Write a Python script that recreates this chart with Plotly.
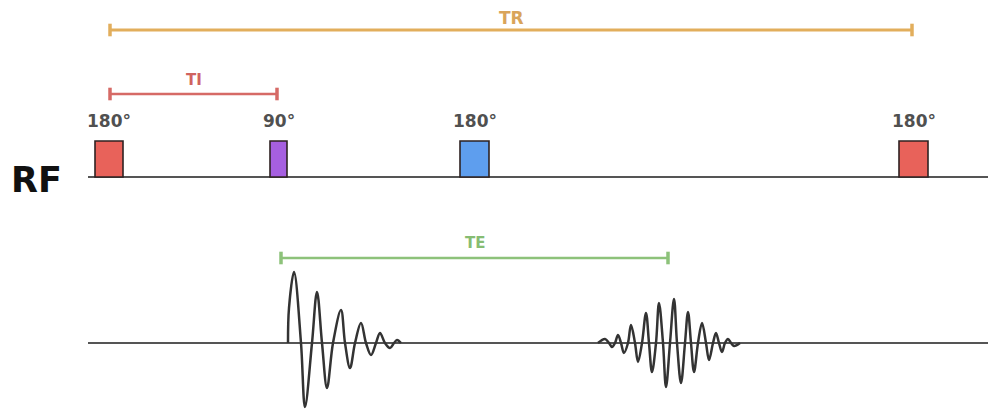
import plotly.graph_objects as go

# ---------------- data (diagram units = horizontal time axis) ----------------
pulse_labels = ["180°", "90°", "180°", "180°"]
pulse_start = [95, 270, 460, 899]
pulse_end = [123, 287, 489, 928]

interval_names = ["TR", "TI", "TE"]
interval_start = [110, 110, 281]
interval_end = [912, 277, 668]

# FID after the 90° pulse (time, amplitude) read at extrema and zero crossings
fid_t = [288, 289, 294, 301, 305, 312, 317, 322, 327, 333, 341, 345, 350,
         355, 361, 366, 371, 376, 380, 385, 390, 394, 397, 401]
fid_amp = [0, 35, 71, 0, -64, 0, 51, 0, -45, 0, 33, 0, -25,
           0, 20, 0, -12, 0, 10, 0, -5, 0, 3, 0]

# Spin echo (time, amplitude) read at extrema and zero crossings
echo_t = [598, 605, 609, 612, 615, 618, 621, 624, 628, 631, 635, 638, 642,
          646, 649, 652, 656, 659, 663, 666, 670, 674, 677, 681, 685, 688,
          691, 694, 698, 702, 706, 709, 713, 716, 719, 722, 725, 728, 731,
          734, 740]
echo_amp = [0, 4, 0, -4, 0, 8, 0, -10, 0, 18, 0, -19, 0,
            30, 0, -29, 0, 40, 0, -44, 0, 44, 0, -40, 0, 31,
            0, -29, 0, 20, 0, -17, 0, 10, 0, -9, 0, 4, 0,
            -3, 0]

# ---------------- styles / layout ----------------
W, H = 988, 412
rf_y = 177
sig_y = 343
pulse_top = 141
pulse_fill = ["#E8625A", "#A65FE0", "#5E9EEE", "#E8625A"]
interval_colors = ["#E2AE5C", "#D66A66", "#8DC27A"]
interval_label_colors = ["#D9A45A", "#D0635F", "#86BC72"]
interval_y = [30, 94, 258]
interval_label_y = [18, 80, 243]
interval_width = [3, 2.5, 2.5]
interval_font = [17, 15, 15]

fig = go.Figure()

# baselines
for yb in (rf_y, sig_y):
    fig.add_trace(go.Scatter(x=[88, 988], y=[yb, yb], mode="lines",
                             line=dict(color="#555555", width=1.8),
                             hoverinfo="skip"))

# pulses
for i, lab in enumerate(pulse_labels):
    fig.add_shape(type="rect", xref="x", yref="y",
                  x0=pulse_start[i], x1=pulse_end[i], y0=pulse_top, y1=rf_y,
                  fillcolor=pulse_fill[i], line=dict(color="#2e2222", width=1.6))
    fig.add_annotation(x=(pulse_start[i] + pulse_end[i]) / 2, y=121, text=lab,
                       showarrow=False, xanchor="center", yanchor="middle",
                       font=dict(family="DejaVu Sans", size=17, color="#505050",
                                 weight="bold"))

# timing intervals
for i, name in enumerate(interval_names):
    fig.add_trace(go.Scatter(
        x=[interval_start[i], interval_end[i]], y=[interval_y[i], interval_y[i]],
        mode="lines+markers",
        line=dict(color=interval_colors[i], width=interval_width[i]),
        marker=dict(symbol="line-ns", size=9,
                    line=dict(color=interval_colors[i], width=3.5)),
        hoverinfo="skip"))
    fig.add_annotation(x=(interval_start[i] + interval_end[i]) / 2,
                       y=interval_label_y[i], text=name, showarrow=False,
                       xanchor="center", yanchor="middle",
                       font=dict(family="DejaVu Sans", size=interval_font[i],
                                 color=interval_label_colors[i], weight="bold"))

# signals
for ts, amps in ((fid_t, fid_amp), (echo_t, echo_amp)):
    fig.add_trace(go.Scatter(x=ts, y=[sig_y - a for a in amps], mode="lines",
                             line=dict(color="#333333", width=2.5,
                                       shape="spline", smoothing=1.0),
                             hoverinfo="skip"))

# RF label
fig.add_annotation(x=36, y=180, text="RF", showarrow=False,
                   xanchor="center", yanchor="middle",
                   font=dict(family="DejaVu Sans", size=35, color="#111111",
                             weight="bold"))

fig.update_layout(
    width=W, height=H, margin=dict(l=0, r=0, t=0, b=0),
    paper_bgcolor="white", plot_bgcolor="white", showlegend=False,
    xaxis=dict(range=[0, W], visible=False, fixedrange=True),
    yaxis=dict(range=[H, 0], visible=False, fixedrange=True),
)

fig.write_html("out.html", config={"displayModeBar": False},
               post_script="document.body.style.margin='0';"
                           "document.body.style.overflow='hidden';")
